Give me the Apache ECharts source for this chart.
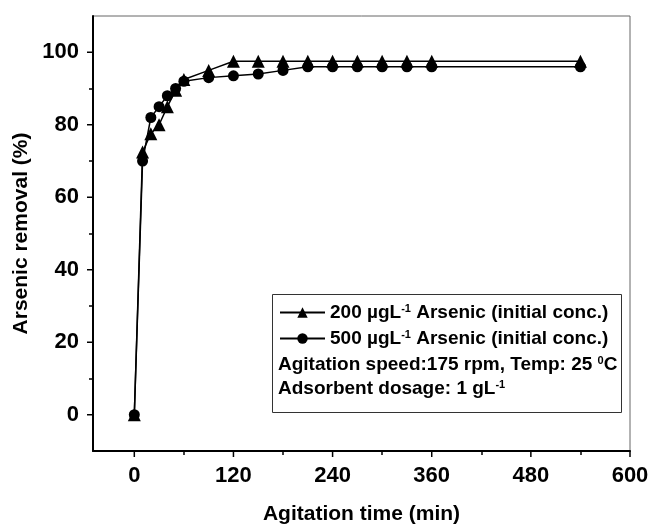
<!DOCTYPE html>
<html>
<head>
<meta charset="utf-8">
<script src="https://cdn.jsdelivr.net/npm/echarts@6/dist/echarts.min.js"></script>
<style>html,body{margin:0;padding:0;background:#fff;}#c{width:651px;height:525px;}</style>
</head>
<body>
<div id="c"></div>
<script>
// ---- data ----
const times200 = [0, 10, 20, 30, 40, 50, 60, 90, 120, 150, 180, 210, 240, 270, 300, 330, 360, 540];
const removal200 = [0, 72.5, 77.5, 80, 85, 89.5, 92.5, 95, 97.5, 97.5, 97.5, 97.5, 97.5, 97.5, 97.5, 97.5, 97.5, 97.5];
const times500 = [0, 10, 20, 30, 40, 50, 60, 90, 120, 150, 180, 210, 240, 270, 300, 330, 360, 540];
const removal500 = [0, 70, 82, 85, 88, 90, 92, 93, 93.5, 94, 95, 96, 96, 96, 96, 96, 96, 96];
const xMajorTicks = [0, 120, 240, 360, 480, 600];
const xMinorTicks = [60, 180, 300, 420, 540];
const yMajorTicks = [0, 20, 40, 60, 80, 100];
const yMinorTicks = [10, 30, 50, 70, 90];
const seriesNames = ['200 µgL', '500 µgL'];

const FONT = '"Liberation Sans", Arial, sans-serif';
const W = 651, H = 525, GL = 93, GR = 21, GT = 16, GB = 74;
const X_MIN = -50, X_MAX = 600, Y_MIN = -10, Y_MAX = 110;
const MAJOR_LEN = 6, MINOR_LEN = 4;
const chart = echarts.init(document.getElementById('c'), null, {renderer: 'canvas'});

const pair = (xs, ys) => xs.map((x, i) => [x, ys[i]]);
const supRich = {
  b: {fontFamily: FONT, fontWeight: 'bold', fontSize: 19, color: '#000'},
  sup: {fontFamily: FONT, fontWeight: 'bold', fontSize: 11, color: '#000', verticalAlign: 'top', padding: [0, 0, 8, 0]}
};

// tick-only axis (minor ticks), moved onto the bottom / left edge through offset
function tickAxis(pos, offset, min, max, vals, len) {
  return {
    type: 'value', min: min, max: max, position: pos, offset: offset,
    splitLine: {show: false},
    axisLine: {show: false, onZero: false},
    axisTick: {show: true, inside: true, length: len, lineStyle: {color: '#000', width: 1.5}, customValues: vals},
    axisLabel: {show: false}
  };
}

// major ticks, placed through the cartesian coordinate system
function majorTickSeries(name, data, horizontal) {
  return {
    name: name, type: 'custom', xAxisIndex: 0, yAxisIndex: 0, clip: false, silent: true, z: 10,
    data: data,
    renderItem: (params, api) => {
      const p = api.coord([api.value(0), api.value(1)]);
      const shape = horizontal
        ? {x1: p[0], y1: p[1], x2: p[0], y2: p[1] + MAJOR_LEN}
        : {x1: p[0] - MAJOR_LEN, y1: p[1], x2: p[0], y2: p[1]};
      return {type: 'line', shape: shape, style: {stroke: '#000', lineWidth: 1.5}};
    }
  };
}

chart.setOption({
  animation: false,
  backgroundColor: '#fff',
  tooltip: {show: false},
  grid: {left: GL, right: GR, top: GT, bottom: GB, outerBoundsMode: 'none', containLabel: false,
         show: true, borderColor: '#666', borderWidth: 1},
  xAxis: [
    {
      type: 'value', min: X_MIN, max: X_MAX, position: 'bottom',
      splitLine: {show: false},
      axisLine: {show: true, onZero: false, lineStyle: {color: '#000', width: 2}},
      axisTick: {show: false},
      name: 'Agitation time (min)', nameLocation: 'middle', nameGap: 53,
      nameTextStyle: {fontFamily: FONT, fontWeight: 'bold', fontSize: 21, color: '#000'},
      axisLabel: {customValues: xMajorTicks, margin: 14, fontFamily: FONT, fontWeight: 'bold', fontSize: 22, color: '#000'}
    },
    tickAxis('top', -(H - GT - GB), X_MIN, X_MAX, xMinorTicks, MINOR_LEN)
  ],
  yAxis: [
    {
      type: 'value', min: Y_MIN, max: Y_MAX, position: 'left',
      splitLine: {show: false},
      axisLine: {show: true, onZero: false, lineStyle: {color: '#000', width: 2}},
      axisTick: {show: false},
      name: 'Arsenic removal (%)', nameLocation: 'middle', nameGap: 59,
      nameTextStyle: {fontFamily: FONT, fontWeight: 'bold', fontSize: 21, color: '#000'},
      axisLabel: {customValues: yMajorTicks, margin: 14, fontFamily: FONT, fontWeight: 'bold', fontSize: 22, color: '#000'}
    },
    tickAxis('right', -(W - GL - GR), Y_MIN, Y_MAX, yMinorTicks, MINOR_LEN)
  ],
  legend: {
    orient: 'vertical', left: 274, top: 298, itemGap: 7,
    itemWidth: 45, itemHeight: 13,
    data: [seriesNames[0], seriesNames[1]],
    formatter: (n) => '{b|' + n + '}{sup|-1}{b| Arsenic (initial conc.)}',
    textStyle: {rich: supRich}
  },
  graphic: [
    {type: 'rect', shape: {x: 272.5, y: 294.5, width: 349, height: 118}, style: {fill: 'none', stroke: '#333', lineWidth: 1}, z: 1},
    {type: 'text', left: 278, top: 355, style: {rich: supRich, text: '{b|Agitation speed:175 rpm, Temp: 25 }{sup|0}{b|C}'}},
    {type: 'text', left: 278, top: 379, style: {rich: supRich, text: '{b|Adsorbent dosage: 1 gL}{sup|-1}'}}
  ],
  series: [
    {
      name: seriesNames[0], type: 'line', data: pair(times200, removal200),
      xAxisIndex: 0, yAxisIndex: 0,
      symbol: 'triangle', symbolSize: 13,
      lineStyle: {color: '#000', width: 1.5}, itemStyle: {color: '#000'}
    },
    {
      name: seriesNames[1], type: 'line', data: pair(times500, removal500),
      xAxisIndex: 0, yAxisIndex: 0,
      symbol: 'circle', symbolSize: 11,
      lineStyle: {color: '#000', width: 1.5}, itemStyle: {color: '#000'}
    },
    majorTickSeries('xMajorTicks', xMajorTicks.map(v => [v, Y_MIN]), true),
    majorTickSeries('yMajorTicks', yMajorTicks.map(v => [X_MIN, v]), false)
  ]
});
</script>
</body>
</html>
